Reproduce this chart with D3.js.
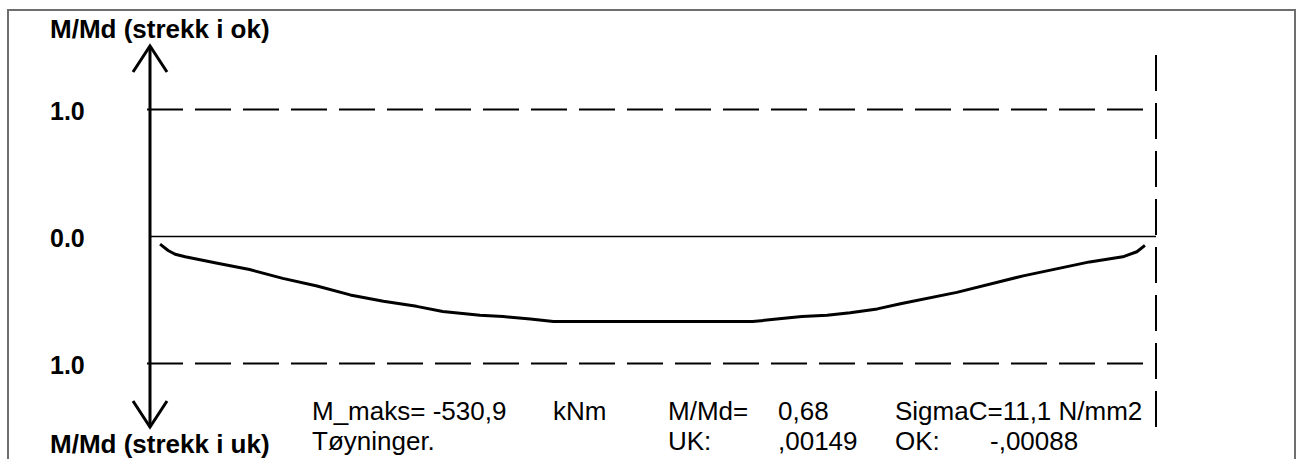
<!DOCTYPE html>
<html>
<head>
<meta charset="utf-8">
<script src="https://cdn.jsdelivr.net/npm/d3@7"></script>
<style>
  html, body { margin: 0; padding: 0; background: #fff; }
  svg { display: block; }
  text { font-family: "Liberation Sans", Arial, sans-serif; fill: #000; }
</style>
</head>
<body>
<svg id="chart" width="1300" height="459"></svg>
<script>
// ---- data ----
// position along the member (% of length)
const positions = [1.0, 1.8, 2.5, 3.5, 6.7, 9.9, 13.2, 16.6, 19.9, 23.2, 26.5, 29.1, 32.8, 35.1, 37.8, 40.1, 50.0,
                   59.9, 62.3, 64.8, 67.3, 69.6, 72.3, 74.6, 80.2, 86.8, 93.4, 96.7, 98.1, 98.9];
// M/Md (positive = strekk i uk, drawn downward)
const mRatio = [0.06, 0.11, 0.14, 0.16, 0.21, 0.26, 0.33, 0.39, 0.46, 0.51, 0.55, 0.59, 0.62, 0.63, 0.65, 0.67, 0.67,
                0.67, 0.65, 0.63, 0.62, 0.60, 0.57, 0.53, 0.44, 0.31, 0.20, 0.16, 0.12, 0.07];
const tickValues = [-1, 0, 1];
const tickLabels = ["1.0", "0.0", "1.0"];
const axisTitles = ["M/Md (strekk i ok)", "M/Md (strekk i uk)"];
const infoRow1 = ["M_maks= -530,9", "kNm", "M/Md=", "0,68", "SigmaC=11,1 N/mm2"];
const infoRow2 = ["Tøyninger.", "", "UK:", ",00149", "OK:", "-,00088"];

// ---- layout ----
const svg = d3.select("#chart");
const x = d3.scaleLinear().domain([0, 100]).range([150, 1156]);
const y = d3.scaleLinear().domain([-1, 1]).range([109.5, 363.5]);

// frame
svg.append("rect").attr("x", 8).attr("y", 10).attr("width", 1287).attr("height", 470)
  .attr("fill", "none").attr("stroke", "#6e6e6e").attr("stroke-width", 2);

// dashed limit lines at +-1
svg.selectAll("line.lim").data([-1, 1]).join("line").attr("class", "lim")
  .attr("x1", x(0) - 3).attr("x2", x(100)).attr("y1", d => y(d)).attr("y2", d => y(d))
  .attr("stroke", "#000").attr("stroke-width", 2).attr("stroke-dasharray", "36,12");

// right dashed vertical
svg.append("line").attr("x1", x(100)).attr("x2", x(100)).attr("y1", y(-1.5) + 9).attr("y2", y(1.5))
  .attr("stroke", "#000").attr("stroke-width", 2).attr("stroke-dasharray", "36,12");

// zero line
svg.append("line").attr("x1", x(0)).attr("x2", x(100)).attr("y1", y(0)).attr("y2", y(0))
  .attr("stroke", "#000").attr("stroke-width", 1.5);

// vertical axis with arrows
const ax = x(0);
svg.append("line").attr("x1", ax).attr("x2", ax).attr("y1", y(-1.5)).attr("y2", y(1.5))
  .attr("stroke", "#000").attr("stroke-width", 3);
const head = 26;
svg.append("path")
  .attr("d", `M${ax - 17},${y(-1.5) + head} L${ax},${y(-1.5)} L${ax + 17},${y(-1.5) + head}`)
  .attr("fill", "none").attr("stroke", "#000").attr("stroke-width", 3);
svg.append("path")
  .attr("d", `M${ax - 17},${y(1.5) - head} L${ax},${y(1.5)} L${ax + 17},${y(1.5) - head}`)
  .attr("fill", "none").attr("stroke", "#000").attr("stroke-width", 3);

// tick labels
svg.selectAll("text.tick").data(tickValues).join("text").attr("class", "tick")
  .attr("x", 50).attr("y", d => y(d) + 10)
  .attr("font-size", 25).attr("font-weight", "bold")
  .text((d, i) => tickLabels[i]);

// axis titles
svg.append("text").attr("x", 50).attr("y", 38).attr("font-size", 26).attr("font-weight", "bold").text(axisTitles[0]);
svg.append("text").attr("x", 50).attr("y", 453).attr("font-size", 26).attr("font-weight", "bold").text(axisTitles[1]);

// curve
const line = d3.line().x((d, i) => x(positions[i])).y(d => y(d)).curve(d3.curveLinear);
svg.append("path").datum(mRatio).attr("d", line)
  .attr("fill", "none").attr("stroke", "#000").attr("stroke-width", 3).attr("stroke-linejoin", "round");

// info text
const row1X = [312, 553, 668, 778, 895];
const row2X = [312, 0, 668, 778, 895, 990];
svg.selectAll("text.r1").data(infoRow1).join("text").attr("class", "r1")
  .attr("x", (d, i) => row1X[i]).attr("y", 420).attr("font-size", 26).text(d => d);
svg.selectAll("text.r2").data(infoRow2).join("text").attr("class", "r2")
  .attr("x", (d, i) => row2X[i]).attr("y", 450).attr("font-size", 26).text(d => d);
</script>
</body>
</html>
